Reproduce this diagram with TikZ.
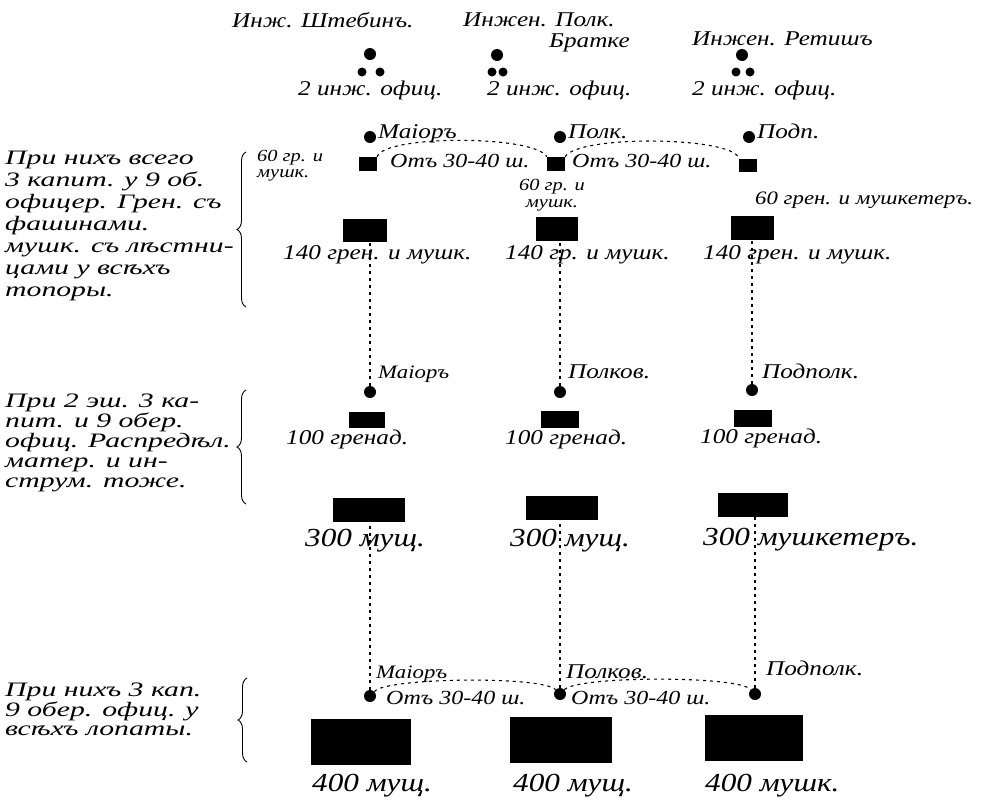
\documentclass[tikz,border=0pt]{standalone}
\usepackage{fontspec}
\setmainfont{Liberation Serif}
\newfontfamily\handfont[FakeStretch=1.2]{Liberation Serif}
\newfontfamily\notefont[FakeStretch=1.45]{Liberation Serif}
\usetikzlibrary{decorations.pathreplacing}

\tikzset{
  bigdot/.style={circle,fill=black,inner sep=0pt,minimum size=12pt},
  smalldot/.style={circle,fill=black,inner sep=0pt,minimum size=9pt},
  troop/.style={rectangle,fill=black,inner sep=0pt},
  hand/.style={font=\handfont\fontsize{21}{23}\selectfont\itshape,inner sep=0pt,anchor=base west},
  bighand/.style={hand,font=\handfont\fontsize{26}{28}\selectfont\itshape},
  smallhand/.style={hand,font=\handfont\fontsize{20}{20}\selectfont\itshape},
  tinyhand/.style={hand,font=\handfont\fontsize{17}{17}\selectfont\itshape},
  note/.style={font=\notefont\fontsize{20.5}{22}\selectfont\itshape,align=left,anchor=north west,inner sep=0pt},
  link/.style={line width=1.1pt,dash pattern=on 3pt off 4pt},
  grp/.style={decorate,decoration={brace,amplitude=9pt},line width=0.9pt}
}

\begin{document}
\begin{tikzpicture}[x=1pt,y=-1pt]
	\useasboundingbox (0,0) rectangle (996,801);
	% engineers
	\node[hand] (eng1) at (232,27) {Инж. Штебинъ.};
	\node[hand] (eng2) at (463,26) {Инжен. Полк.};
	\node[hand] (eng2b) at (549,47) {Братке};
	\node[hand] (eng3) at (692,45) {Инжен. Ретишъ};
	\node[bigdot] (e1) at (370,54) {};
	\node[smalldot] (e1l) at (362,72) {};
	\node[smalldot] (e1r) at (380,72) {};
	\node[bigdot] (e2) at (497,55) {};
	\node[smalldot] (e2l) at (492,72) {};
	\node[smalldot] (e2r) at (503,72) {};
	\node[bigdot] (e3) at (742,55) {};
	\node[smalldot] (e3l) at (736,72) {};
	\node[smalldot] (e3r) at (750,72) {};
	\node[hand] (eo1) at (298,95) {2 инж. офиц.};
	\node[hand] (eo2) at (487,95) {2 инж. офиц.};
	\node[hand] (eo3) at (692,95) {2 инж. офиц.};

	% first line
	\node[bigdot] (c1) at (370,137) {};
	\node[bigdot] (c2) at (560,137) {};
	\node[bigdot] (c3) at (749,137) {};
	\node[hand] (c1t) at (378,138) {Маіоръ};
	\node[hand] (c2t) at (568,138) {Полк.};
	\node[hand] (c3t) at (757,138) {Подп.};
	\node[troop,minimum width=18pt,minimum height=14pt] (s1) at (368,164) {};
	\node[troop,minimum width=18pt,minimum height=14pt] (s2) at (556,164) {};
	\node[troop,minimum width=18pt,minimum height=13pt] (s3) at (748,165) {};
	\draw[link] (s1.north east) .. controls +(6,-22) and +(-12,-22) .. (s2.north west);
	\draw[link] (s2.north east) .. controls +(12,-22) and +(-6,-22) .. (s3.north west);
	\node[smallhand] (d1) at (390,167) {Отъ 30-40 ш.};
	\node[smallhand] (d2) at (572,167) {Отъ 30-40 ш.};
	\node[tinyhand] (g1) at (257,161) {60 гр. и};
	\node[tinyhand] (g1b) at (257,177) {мушк.};
	\node[tinyhand,anchor=base] (g2) at (552,190) {60 гр. и};
	\node[tinyhand,anchor=base] (g2b) at (552,207) {мушк.};
	\node[smallhand,font=\handfont\fontsize{19}{19}\selectfont\itshape] (g3) at (755,204) {60 грен. и мушкетеръ.};
	\node[troop,minimum width=44pt,minimum height=23pt] (b1) at (365,230) {};
	\node[troop,minimum width=42pt,minimum height=24pt] (b2) at (557,229) {};
	\node[troop,minimum width=43pt,minimum height=24pt] (b3) at (752,228) {};
	\node[hand] (b1t) at (283,259) {140 грен. и мушк.};
	\node[hand] (b2t) at (505,259) {140 гр. и мушк.};
	\node[hand] (b3t) at (703,259) {140 грен. и мушк.};

	% second line
	\node[bigdot] (m1) at (370,392) {} edge[link] (b1.south -| m1.north);
	\node[bigdot] (m2) at (560,392) {} edge[link] (b2.south -| m2.north);
	\node[bigdot] (m3) at (752,390) {} edge[link] (b3.south -| m3.north);
	\node[hand,font=\handfont\fontsize{19}{21}\selectfont\itshape] (m1t) at (378,378) {Маіоръ};
	\node[hand] (m2t) at (568,378) {Полков.};
	\node[hand] (m3t) at (762,378) {Подполк.};
	\node[troop,minimum width=36pt,minimum height=16pt] (h1) at (367,420) {};
	\node[troop,minimum width=38pt,minimum height=17pt] (h2) at (560,419) {};
	\node[troop,minimum width=38pt,minimum height=17pt] (h3) at (753,418) {};
	\node[hand] (h1t) at (286,444) {100 гренад.};
	\node[hand] (h2t) at (505,444) {100 гренад.};
	\node[hand] (h3t) at (700,443) {100 гренад.};
	\node[troop,minimum width=72pt,minimum height=24pt] (k1) at (369,510) {};
	\node[troop,minimum width=72pt,minimum height=24pt] (k2) at (562,508) {};
	\node[troop,minimum width=70pt,minimum height=24pt] (k3) at (753,505) {};
	\node[bighand] (k1t) at (305,546) {300 мущ.};
	\node[bighand] (k2t) at (510,546) {300 мущ.};
	\node[bighand] (k3t) at (703,545) {300 мушкетеръ.};

	% third line
	\node[bigdot] (p1) at (370,696) {} edge[link] (k1.south -| p1.north);
	\node[bigdot] (p2) at (560,694) {} edge[link] (k2.south -| p2.north);
	\node[bigdot] (p3) at (755,694) {} edge[link] (k3.south -| p3.north);
	\draw[link] (p1.north east) .. controls +(10,-14) and +(-14,-14) .. (p2.north west);
	\draw[link] (p2.north east) .. controls +(14,-14) and +(-10,-14) .. (p3.north west);
	\node[hand,font=\handfont\fontsize{19}{21}\selectfont\itshape] (p1t) at (376,678) {Маіоръ};
	\node[hand] (p2t) at (566,678) {Полков.};
	\node[hand] (p3t) at (766,675) {Подполк.};
	\node[smallhand] (q1) at (386,704) {Отъ 30-40 ш.};
	\node[smallhand] (q2) at (571,704) {Отъ 30-40 ш.};
	\node[troop,minimum width=100pt,minimum height=46pt] (r1) at (361,742) {};
	\node[troop,minimum width=102pt,minimum height=46pt] (r2) at (561,740) {};
	\node[troop,minimum width=98pt,minimum height=46pt] (r3) at (754,738) {};
	\node[bighand] (r1t) at (312,791) {400 мущ.};
	\node[bighand] (r2t) at (513,791) {400 мущ.};
	\node[bighand] (r3t) at (705,791) {400 мушк.};

	% notes on the left
	\node[note] (n1) at (5,151) {При нихъ всего\\3 капит. у 9 об.\\офицер. Грен. съ\\фашинами.\\мушк. съ лѣстни-\\цами у всѣхъ\\топоры.};
	\node[note,font=\notefont\fontsize{20.5}{20}\selectfont\itshape] (n2) at (5,394) {При 2 эш. 3 ка-\\пит. и 9 обер.\\офиц. Распредѣл.\\матер. и ин-\\струм. тоже.};
	\node[note,font=\notefont\fontsize{20.5}{19}\selectfont\itshape] (n3) at (5,683) {При нихъ 3 кап.\\9 обер. офиц. у\\всѣхъ лопаты.};
	\coordinate (u1) at (246,307);
	\coordinate (v1) at (246,152);
	\coordinate (u2) at (246,504);
	\coordinate (v2) at (246,390);
	\coordinate (u3) at (247,762);
	\coordinate (v3) at (247,678);
	\draw[grp] (u1) -- (v1);
	\draw[grp] (u2) -- (v2);
	\draw[grp] (u3) -- (v3);
\end{tikzpicture}
\end{document}
